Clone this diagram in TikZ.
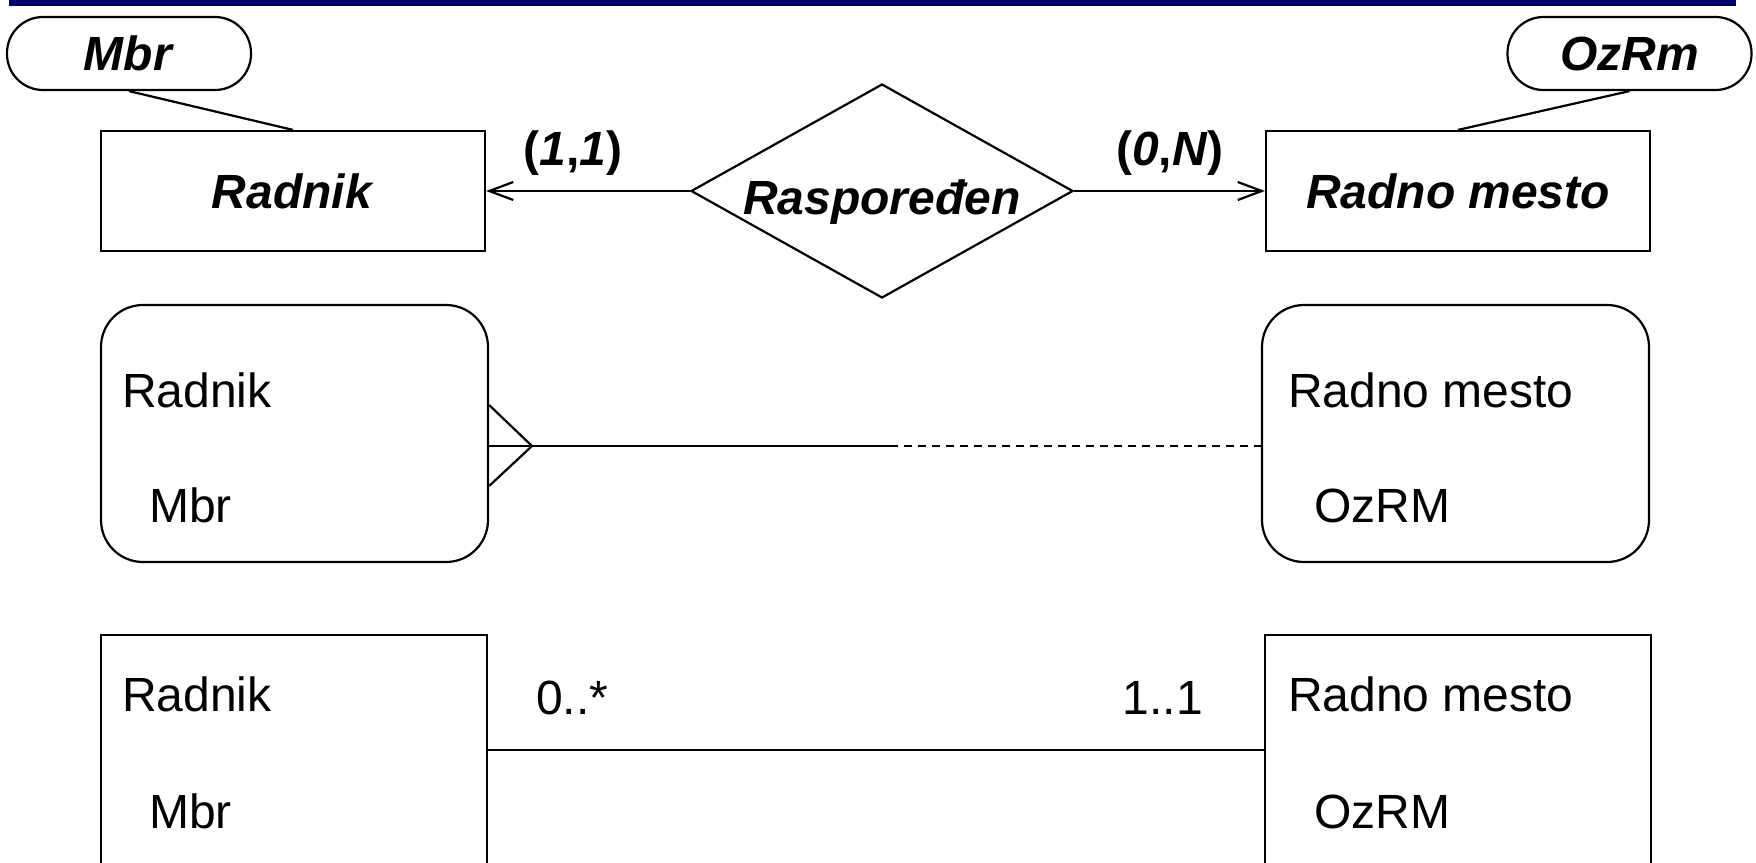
\documentclass[tikz,border=0pt]{standalone}
\usepackage{fontspec}
\setmainfont{Liberation Sans}
\usepackage{xcolor}
\usetikzlibrary{arrows.meta,shapes.geometric,positioning}
\definecolor{naslov}{RGB}{0,0,102}

\begin{document}
\begin{tikzpicture}[x=0.5pt,y=-0.5pt,line width=1.1pt,
    font=\fontsize{24}{28}\selectfont,
    attr/.style={draw,rounded corners=18pt,minimum width=122pt,minimum height=36.5pt,inner sep=0pt},
    ent/.style={draw,minimum width=192pt,minimum height=60pt,inner sep=0pt},
    rel/.style={draw,diamond,aspect=1.78,minimum width=191pt,minimum height=107pt,inner sep=0pt,
        text height=23pt,text depth=0pt},
    soft/.style={draw,rounded corners=21pt,minimum width=193.5pt,minimum height=128.5pt},
    klasa/.style={draw,minimum width=193pt,minimum height=132.5pt},
    txt/.style={anchor=base west,inner sep=0pt},
    veza/.style={-{Straight Barb[length=12pt,width=9pt]}}]
    \useasboundingbox (0,0) rectangle (1756,862);
    \clip (0,0) rectangle (1756,862);

    % traka
    \fill[naslov] (9,0) rectangle (1736,6);

    % ER model
    \node[attr] (mbr) at (129,53.5) {\textbf{\textit{Mbr}}};
    \node[attr] (ozrm) at (1629.5,53.5) {\textbf{\textit{OzRm}}};
    \node[ent] (radnik) at (293,191) {\textbf{\textit{Radnik}}};
    \node[ent] (mesto) at (1458,191) {\textbf{\textit{Radno mesto}}};
    \node[rel] (rasp) at (882,191) {\textbf{\textit{Raspoređen}}};
    \node (k11) at (573,153) {\textbf{(\textit{1},\textit{1})}};
    \node (k0n) at (1170,153) {\textbf{(\textit{0},\textit{N})}};
    \draw (mbr.south) -- (radnik.north);
    \draw (ozrm.south) -- (mesto.north);
    \draw[veza] (rasp.west) -- (radnik.east);
    \draw[veza] (rasp.east) -- (mesto.west);

    % IE model
    \node[soft] (r2) at (294.5,433.5) {};
    \node[soft] (m2) at (1455.5,433.5) {};
    \node[txt] (r2ime) at (121,407) {Radnik};
    \node[txt] (r2kljuc) at (148,522) {Mbr};
    \node[txt] (m2ime) at (1287,407) {Radno mesto};
    \node[txt] (m2kljuc) at (1313,522) {OzRM};
    \coordinate (noga) at (532,446);
    \coordinate (pola) at (890,446);
    \draw (noga -| r2.east) -- (noga) -- (pola);
    \draw ([yshift=20.5pt]noga -| r2.east) -- (noga) -- ([yshift=-20pt]noga -| r2.east);
    \draw[dash pattern=on 4pt off 3pt] (pola) -- (pola -| m2.west);

    % UML
    \node[klasa] (r3) at (294,767.5) {};
    \node[klasa] (m3) at (1458,767.5) {};
    \node[txt] (r3ime) at (121,711) {Radnik};
    \node[txt] (r3kljuc) at (148,828) {Mbr};
    \node[txt] (m3ime) at (1287,711) {Radno mesto};
    \node[txt] (m3kljuc) at (1313,828) {OzRM};
    \coordinate (asoc) at (700,750);
    \draw (asoc -| r3.east) -- (asoc -| m3.west);
    \node[txt] (v0) at (535,714) {0..*};
    \node[txt,anchor=base east] (v1) at (1204,714) {1..1};
\end{tikzpicture}
\end{document}
